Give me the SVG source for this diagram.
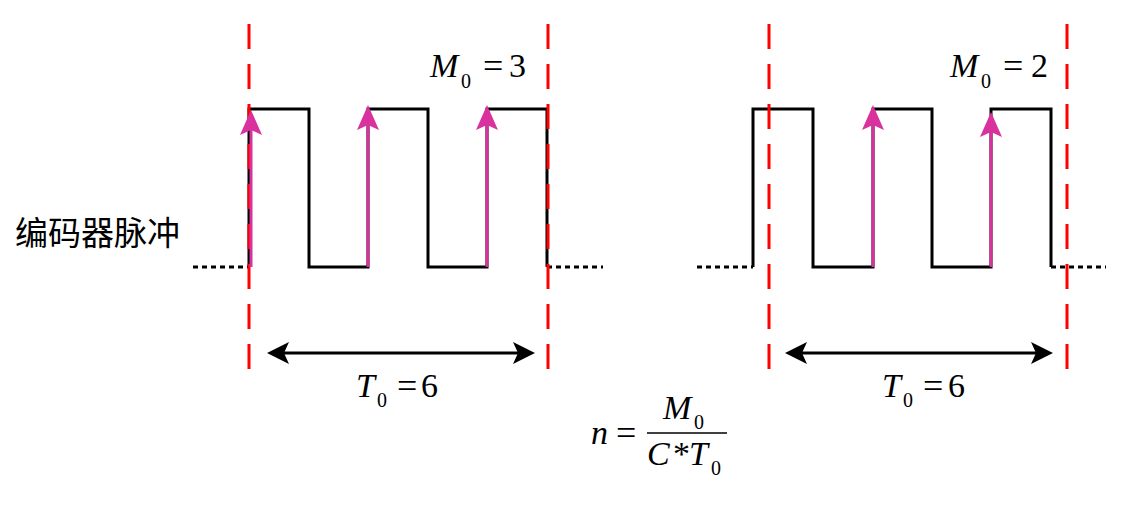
<svg xmlns="http://www.w3.org/2000/svg" width="1137" height="510" viewBox="0 0 1137 510">
<style>
.wave{fill:none;stroke:#000;stroke-width:3;stroke-linejoin:miter}
.dot{fill:none;stroke:#000;stroke-width:3;stroke-dasharray:5 4}
.red{stroke:#FF0000;stroke-width:3;stroke-dasharray:25 15}
.mag{stroke:#D9319E;stroke-width:3;marker-end:url(#mh)}
.dim{stroke:#000;stroke-width:3;marker-start:url(#bh);marker-end:url(#bh)}
.m{font-family:"Liberation Serif","Times New Roman","DejaVu Serif",serif;font-size:34px;fill:#000}
.eq{font-family:"Liberation Serif","Times New Roman","DejaVu Serif",serif;font-size:36px;fill:#000}
.i{font-style:italic}
.s{font-family:"Liberation Serif","Times New Roman","DejaVu Serif",serif;font-size:20px;fill:#000}
.cn{font-family:"Noto Sans CJK SC","Noto Sans",sans-serif;font-size:33px;fill:#000}
</style>
<defs>
<marker id="mh" markerUnits="userSpaceOnUse" markerWidth="32" markerHeight="26" viewBox="-6 -13 32 26" refX="0" refY="0" orient="auto">
<path d="M20,0 L-5,-11 L0,0 L-5,11 Z" fill="#D9319E"/>
</marker>
<marker id="bh" markerUnits="userSpaceOnUse" markerWidth="30" markerHeight="26" viewBox="-6 -13 30 26" refX="0" refY="0" orient="auto-start-reverse">
<path d="M17,0 L-5,-11 L0,0 L-5,11 Z" fill="#000"/>
</marker>
</defs>
<rect width="1137" height="510" fill="#fff"/>

<g id="label-encoder">
<text class="cn" x="15" y="245">编码器脉冲</text>
</g>

<g id="waveform-left">
<path class="dot" d="M193,267 H249"/>
<path class="wave" d="M249,267 V109 H309 V267 H368 V109 H428 V267 H487 V109 H547 V267"/>
<path class="dot" d="M547,267 H603"/>
</g>

<g id="waveform-right">
<path class="dot" d="M697,267 H753"/>
<path class="wave" d="M753,267 V109 H813 V267 H873 V109 H932 V267 H991 V109 H1051 V267"/>
<path class="dot" d="M1051,267 H1106"/>
</g>

<g id="window-lines">
<line class="red" x1="249" y1="24" x2="249" y2="370"/>
<line class="red" x1="548" y1="24" x2="548" y2="370"/>
<line class="red" x1="769" y1="24" x2="769" y2="370"/>
<line class="red" x1="1067" y1="24" x2="1067" y2="370"/>
</g>

<g id="connectors">
<line class="mag" x1="251" y1="267" x2="251" y2="130"/>
<line class="mag" x1="368" y1="267" x2="368" y2="125"/>
<line class="mag" x1="487" y1="267" x2="487" y2="125"/>
<line class="mag" x1="873" y1="267" x2="873" y2="125"/>
<line class="mag" x1="991" y1="267" x2="991" y2="132"/>
<line class="dim" x1="284" y1="353" x2="518" y2="353"/>
<line class="dim" x1="802" y1="353" x2="1036" y2="353"/>
</g>

<g id="label-m0-left">
<text class="m i" x="430" y="77">M</text>
<text class="s" x="461" y="88">0</text>
<text class="eq" x="483" y="78">=</text>
<text class="m" x="509" y="77">3</text>
</g>

<g id="label-m0-right">
<text class="m i" x="950" y="77">M</text>
<text class="s" x="981" y="88">0</text>
<text class="eq" x="1003" y="78">=</text>
<text class="m" x="1031" y="77">2</text>
</g>

<g id="label-t0-left">
<text class="m i" x="356" y="397">T</text>
<text class="s" x="377" y="407">0</text>
<text class="eq" x="397" y="398">=</text>
<text class="m" x="421" y="397">6</text>
</g>

<g id="label-t0-right">
<text class="m i" x="882" y="397">T</text>
<text class="s" x="903" y="407">0</text>
<text class="eq" x="923" y="398">=</text>
<text class="m" x="948" y="397">6</text>
</g>

<g id="formula">
<text class="m i" x="591" y="444">n</text>
<text class="eq" x="616" y="445">=</text>
<line x1="647" y1="433" x2="727" y2="433" stroke="#000" stroke-width="1.5"/>
<text class="m i" x="663" y="419">M</text>
<text class="s" x="694" y="429">0</text>
<text class="m i" x="647" y="465">C</text>
<text class="m" x="673" y="465">*</text>
<text class="m i" x="689" y="465">T</text>
<text class="s" x="711" y="475">0</text>
</g>
</svg>
